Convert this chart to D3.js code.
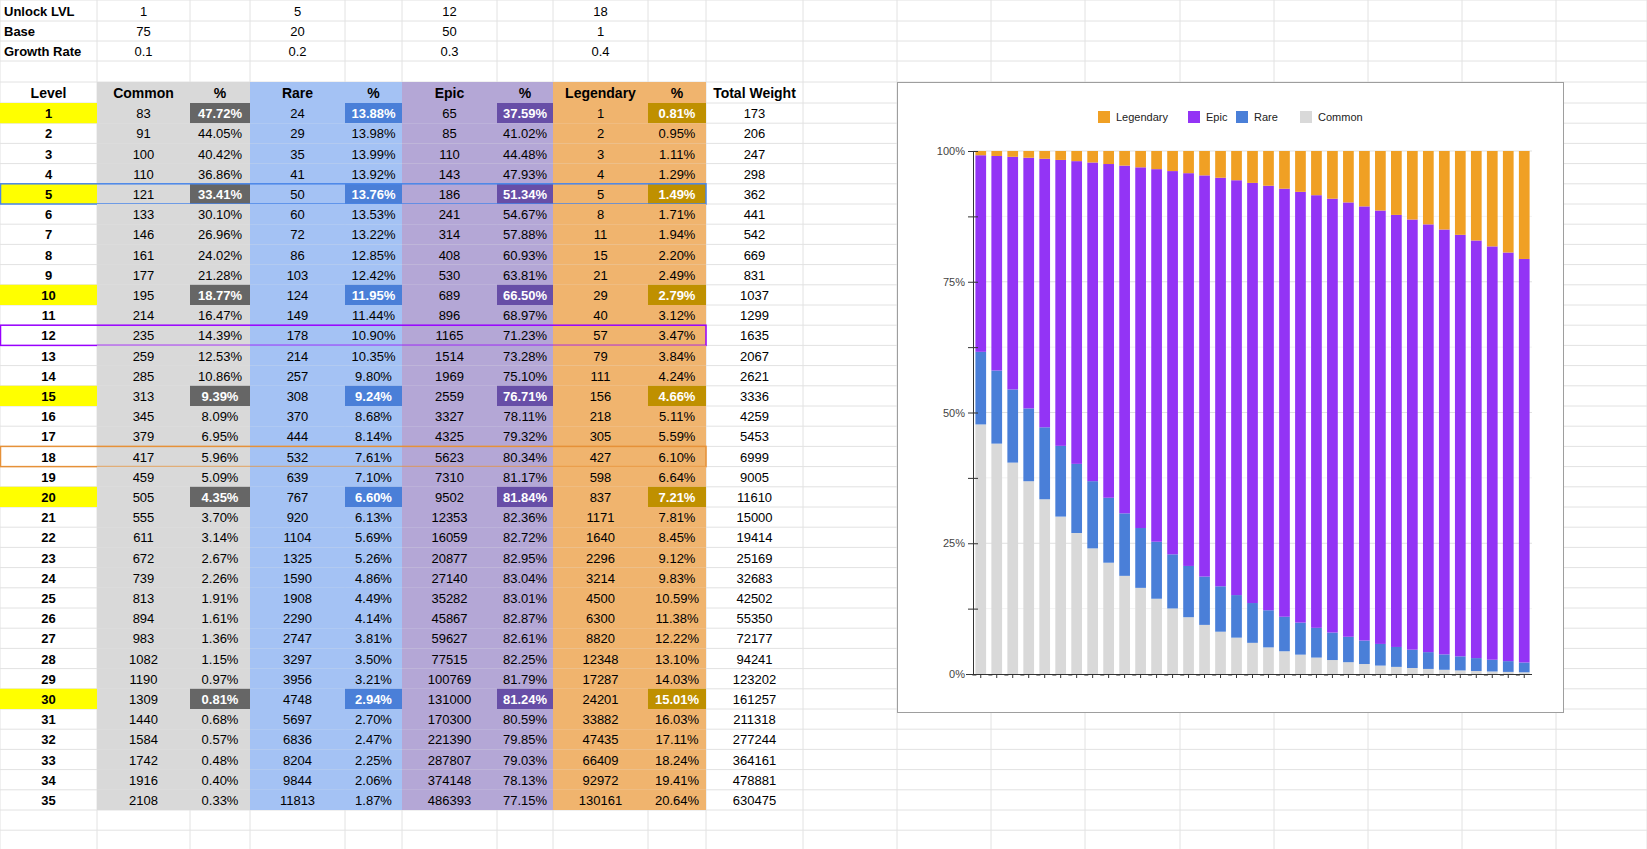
<!DOCTYPE html>
<html>
<head>
<meta charset="UTF-8"/>
<script src="https://cdn.jsdelivr.net/npm/d3@7"></script>
<style>
body { margin: 0; background: #fff; font-family: "Liberation Sans", Arial, sans-serif; }
</style>
</head>
<body>
<div id="sheet"></div>
<script>
(function () {
var W = 1647, H = 849;
var svg = d3.select("#sheet").append("svg").attr("width", W).attr("height", H)
    .style("font-family", "'Liberation Sans', Arial, sans-serif").style("font-size", "13px");

// level, common, %, rare, %, epic, %, legendary, %, total
var rows = [
 [1,83,"47.72%",24,"13.88%",65,"37.59%",1,"0.81%",173],
 [2,91,"44.05%",29,"13.98%",85,"41.02%",2,"0.95%",206],
 [3,100,"40.42%",35,"13.99%",110,"44.48%",3,"1.11%",247],
 [4,110,"36.86%",41,"13.92%",143,"47.93%",4,"1.29%",298],
 [5,121,"33.41%",50,"13.76%",186,"51.34%",5,"1.49%",362],
 [6,133,"30.10%",60,"13.53%",241,"54.67%",8,"1.71%",441],
 [7,146,"26.96%",72,"13.22%",314,"57.88%",11,"1.94%",542],
 [8,161,"24.02%",86,"12.85%",408,"60.93%",15,"2.20%",669],
 [9,177,"21.28%",103,"12.42%",530,"63.81%",21,"2.49%",831],
 [10,195,"18.77%",124,"11.95%",689,"66.50%",29,"2.79%",1037],
 [11,214,"16.47%",149,"11.44%",896,"68.97%",40,"3.12%",1299],
 [12,235,"14.39%",178,"10.90%",1165,"71.23%",57,"3.47%",1635],
 [13,259,"12.53%",214,"10.35%",1514,"73.28%",79,"3.84%",2067],
 [14,285,"10.86%",257,"9.80%",1969,"75.10%",111,"4.24%",2621],
 [15,313,"9.39%",308,"9.24%",2559,"76.71%",156,"4.66%",3336],
 [16,345,"8.09%",370,"8.68%",3327,"78.11%",218,"5.11%",4259],
 [17,379,"6.95%",444,"8.14%",4325,"79.32%",305,"5.59%",5453],
 [18,417,"5.96%",532,"7.61%",5623,"80.34%",427,"6.10%",6999],
 [19,459,"5.09%",639,"7.10%",7310,"81.17%",598,"6.64%",9005],
 [20,505,"4.35%",767,"6.60%",9502,"81.84%",837,"7.21%",11610],
 [21,555,"3.70%",920,"6.13%",12353,"82.36%",1171,"7.81%",15000],
 [22,611,"3.14%",1104,"5.69%",16059,"82.72%",1640,"8.45%",19414],
 [23,672,"2.67%",1325,"5.26%",20877,"82.95%",2296,"9.12%",25169],
 [24,739,"2.26%",1590,"4.86%",27140,"83.04%",3214,"9.83%",32683],
 [25,813,"1.91%",1908,"4.49%",35282,"83.01%",4500,"10.59%",42502],
 [26,894,"1.61%",2290,"4.14%",45867,"82.87%",6300,"11.38%",55350],
 [27,983,"1.36%",2747,"3.81%",59627,"82.61%",8820,"12.22%",72177],
 [28,1082,"1.15%",3297,"3.50%",77515,"82.25%",12348,"13.10%",94241],
 [29,1190,"0.97%",3956,"3.21%",100769,"81.79%",17287,"14.03%",123202],
 [30,1309,"0.81%",4748,"2.94%",131000,"81.24%",24201,"15.01%",161257],
 [31,1440,"0.68%",5697,"2.70%",170300,"80.59%",33882,"16.03%",211318],
 [32,1584,"0.57%",6836,"2.47%",221390,"79.85%",47435,"17.11%",277244],
 [33,1742,"0.48%",8204,"2.25%",287807,"79.03%",66409,"18.24%",364161],
 [34,1916,"0.40%",9844,"2.06%",374148,"78.13%",92972,"19.41%",478881],
 [35,2108,"0.33%",11813,"1.87%",486393,"77.15%",130161,"20.64%",630475]
];
var marked = [1, 5, 10, 15, 20, 30];
var outlines = {5: "#4a86e8", 12: "#9900ff", 18: "#e69138"};

var colX = [0, 97, 190, 250, 345, 402, 497, 553, 648, 706, 803];
var extraX = [897, 991, 1085, 1180, 1274, 1368, 1462, 1556, 1647];
var rowH = 20.2, headY = 82, dataY = 103;

// gridlines
var allX = colX.concat(extraX);
svg.append("g").selectAll("line").data(allX).join("line")
    .attr("x1", d => d).attr("x2", d => d).attr("y1", 0).attr("y2", H)
    .attr("stroke", "#e2e2e2");
var ys = [0, 21, 41, 61, 82].concat(d3.range(0, 37).map(i => dataY + i * rowH));
svg.append("g").selectAll("line").data(ys).join("line")
    .attr("x1", 0).attr("x2", W).attr("y1", d => d).attr("y2", d => d)
    .attr("stroke", "#e2e2e2");

function cell(c, y, h, fill) {
    svg.append("rect").attr("x", colX[c]).attr("y", y).attr("width", colX[c + 1] - colX[c])
        .attr("height", h).attr("fill", fill);
}
function txt(c, y, s, opt) {
    opt = opt || {};
    var a = opt.left ? "start" : "middle";
    var x = opt.left ? colX[c] + 4 : (colX[c] + colX[c + 1]) / 2;
    svg.append("text").attr("x", x).attr("y", y).attr("text-anchor", a)
        .attr("dy", "0.35em").attr("fill", opt.color || "#000")
        .attr("font-weight", opt.bold ? "bold" : null)
        .style("font-size", opt.size || "13px").text(s);
}

// parameter rows
var params = [["Unlock LVL", 1, 5, 12, 18], ["Base", 75, 20, 50, 1], ["Growth Rate", 0.1, 0.2, 0.3, 0.4]];
params.forEach(function (p, i) {
    var y = [11, 31, 51][i];
    txt(0, y, p[0], {left: true, bold: true});
    [1, 3, 5, 7].forEach((c, k) => txt(c, y, p[k + 1]));
});

var bg = {1: "#d9d9d9", 2: "#d9d9d9", 3: "#a4c2f4", 4: "#a4c2f4", 5: "#b4a7d6", 6: "#b4a7d6", 7: "#f0b46e", 8: "#f0b46e"};
var hiBg = {2: "#666666", 4: "#4a7fd8", 6: "#674ea7", 8: "#bf9000"};

// header
var heads = ["Level", "Common", "%", "Rare", "%", "Epic", "%", "Legendary", "%", "Total Weight"];
heads.forEach(function (h, c) {
    if (bg[c]) cell(c, headY, 21, bg[c]);
    txt(c, headY + 11, h, {bold: true, size: "14px"});
});

rows.forEach(function (r, i) {
    var y = dataY + i * rowH, cy = y + rowH / 2 + 0.5;
    var hi = marked.indexOf(r[0]) >= 0;
    for (var c = 0; c < 10; c++) {
        var f = bg[c];
        if (c === 0 && hi) f = "#ffff00";
        if (hi && hiBg[c]) f = hiBg[c];
        if (f) cell(c, y, rowH, f);
        var white = hi && hiBg[c];
        txt(c, cy, r[c], {bold: c === 0 || white, color: white ? "#fff" : "#000"});
    }
    if (outlines[r[0]]) {
        svg.append("rect").attr("x", 0.5).attr("y", y).attr("width", colX[9] - 0.5)
            .attr("height", rowH).attr("fill", "none").attr("stroke", outlines[r[0]]).attr("stroke-width", 1.5);
    }
});

// chart
var box = svg.append("g");
box.append("rect").attr("x", 897.5).attr("y", 82.5).attr("width", 666).attr("height", 630)
    .attr("fill", "#fff").attr("stroke", "#9e9e9e");

var keys = ["common", "rare", "epic", "legendary"];
var colors = {common: "#d9d9d9", rare: "#4a7fd8", epic: "#9334f5", legendary: "#f0a024"};
var data = rows.map(r => ({level: r[0], common: parseFloat(r[2]), rare: parseFloat(r[4]),
    epic: parseFloat(r[6]), legendary: parseFloat(r[8])}));
data.forEach(function (d) { // normalise rounding so stacks total 100
    var s = d.common + d.rare + d.epic + d.legendary;
    keys.forEach(k => d[k] = d[k] / s);
});

var x = d3.scaleBand().domain(data.map(d => d.level)).range([973, 1532]).paddingInner(0.33).paddingOuter(0.15);
var y = d3.scaleLinear().domain([0, 1]).range([674, 151]);

var g = svg.append("g");
g.selectAll("line.grid").data(d3.range(0.125, 1.01, 0.125)).join("line")
    .attr("x1", 973).attr("x2", 1532).attr("y1", d => y(d)).attr("y2", d => y(d))
    .attr("stroke", d => Math.round(d * 8) % 2 ? "#f3f3f3" : "#e0e0e0");

var series = d3.stack().keys(keys)(data);
g.selectAll("g.s").data(series).join("g").attr("fill", s => colors[s.key])
  .selectAll("rect").data(s => s).join("rect")
    .attr("x", d => x(d.data.level)).attr("width", x.bandwidth())
    .attr("y", d => y(d[1])).attr("height", d => y(d[0]) - y(d[1]));

var ya = g.append("g").attr("transform", "translate(973,0)")
    .call(d3.axisLeft(y).tickValues(d3.range(0, 1.01, 0.125)).tickSize(5)
        .tickFormat(d => Math.round(d * 8) % 2 ? "" : d3.format(".0%")(d)));
ya.select(".domain").attr("stroke", "#333");
ya.selectAll(".tick line").attr("stroke", "#333").attr("x2", 5).attr("x1", -5);
ya.selectAll("text").attr("fill", "#444").style("font-size", "11px").attr("x", -8);

var xa = g.append("g").attr("transform", "translate(0,674)")
    .call(d3.axisBottom(x).tickSize(4).tickFormat(""));
xa.select(".domain").attr("stroke", "#333").attr("d", "M966,0.5H1532");
xa.selectAll(".tick line").attr("stroke", "#333");
// dashes between bars on the axis
g.selectAll("line.dash").data(data).join("line")
    .attr("x1", d => x(d.level) - 3).attr("x2", d => x(d.level) + 1)
    .attr("y1", 675).attr("y2", 675).attr("stroke", "#333");

// legend
var leg = [["Legendary", "legendary", 1098], ["Epic", "epic", 1188], ["Rare", "rare", 1236], ["Common", "common", 1300]];
leg.forEach(function (l) {
    svg.append("rect").attr("x", l[2]).attr("y", 111).attr("width", 12).attr("height", 12).attr("fill", colors[l[1]]);
    svg.append("text").attr("x", l[2] + 18).attr("y", 117).attr("dy", "0.35em")
        .attr("fill", "#222").style("font-size", "11px").text(l[0]);
});
})();
</script>
</body>
</html>
